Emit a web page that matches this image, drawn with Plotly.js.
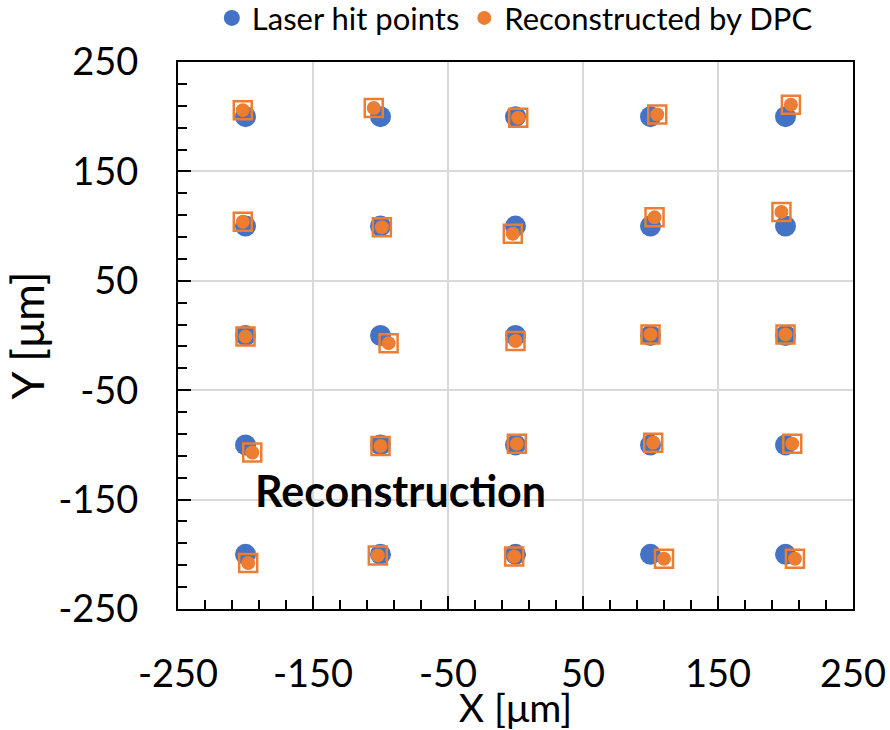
<!DOCTYPE html>
<html>
<head>
<meta charset="utf-8">
<script src="https://cdn.plot.ly/plotly-3.0.1.min.js"></script>
<style>html,body{margin:0;padding:0;background:#fff;}#chart{width:890px;height:730px;}</style>
</head>
<body>
<div id="chart"></div>
<script>
// Laser hit points (nominal grid)
const laserX = [-200, -100, 0, 100, 200, -200, -100, 0, 100, 200, -200, -100, 0, 100, 200, -200, -100, 0, 100, 200, -200, -100, 0, 100, 200];
const laserY = [200, 200, 200, 200, 200, 100, 100, 100, 100, 100, 0, 0, 0, 0, 0, -100, -100, -100, -100, -100, -200, -200, -200, -200, -200];
// Reconstructed by DPC
const recoX = [-202, -105, 2, 105, 204, -202, -99, -2, 103, 197, -200, -94, 0, 100, 200, -195, -100, 1, 102, 205, -198, -102, -1, 110, 207];
const recoY = [206, 208, 199, 202, 211, 104, 99, 93, 108, 113, -1, -7, -5, 1, 1, -107, -101, -99, -98, -99, -208, -201, -202, -204, -204];
const seriesNames = ["Laser hit points", "Reconstructed by DPC"];
const tickVals = [-250, -150, -50, 50, 150, 250];

const FONT = "Lato, 'Open Sans', sans-serif";
const BLUE = "#4472C4";
const ORANGE = "#ED7D31";

const traces = [
  {x: laserX, y: laserY, name: seriesNames[0], type: "scatter", mode: "markers",
   marker: {symbol: "circle", size: 21, color: BLUE}},
  {x: recoX, y: recoY, name: seriesNames[1], type: "scatter", mode: "markers", showlegend: false,
   marker: {symbol: "square-open", size: 18, color: ORANGE, line: {color: ORANGE, width: 2.5}}},
  {x: recoX, y: recoY, name: seriesNames[1], type: "scatter", mode: "markers",
   marker: {symbol: "circle", size: 14, color: ORANGE}}
];

const axisCommon = {
  range: [-250, 250], tickmode: "array", tickvals: tickVals, ticktext: tickVals.map(String),
  showline: true, mirror: true, linecolor: "#000", linewidth: 2,
  ticks: "inside", ticklen: 13, tickwidth: 2, tickcolor: "#000",
  showgrid: true, gridcolor: "#d9d9d9", gridwidth: 2,
  zeroline: false, ticklabelstandoff: 30,
  tickfont: {family: FONT, size: 38, color: "#000"},
  minor: {tick0: -250, dtick: 20, ticks: "inside", ticklen: 9, tickwidth: 2, tickcolor: "#000", showgrid: false},
  fixedrange: true
};

const layout = {
  width: 890, height: 730,
  margin: {l: 178, r: 37, t: 62, b: 121, autoexpand: false},
  paper_bgcolor: "#fff", plot_bgcolor: "#fff",
  font: {family: FONT, color: "#000"},
  showlegend: true,
  legend: {orientation: "h", x: 0.499, xanchor: "center", y: 1.08, yanchor: "middle",
           font: {family: FONT, size: 31, color: "#000"}, itemwidth: 30, traceorder: "normal"},
  xaxis: Object.assign({}, axisCommon, {title: {text: "X [μm]", font: {family: FONT, size: 39, color: "#000"}, standoff: 6}}),
  yaxis: Object.assign({}, axisCommon, {title: {text: "Y [μm]", font: {family: FONT, size: 45, color: "#000"}, standoff: 4}}),
  annotations: [
    {xref: "x", yref: "y", x: -85, y: -142, text: "<b>Reconstruction</b>", showarrow: false,
     font: {family: FONT, size: 43, color: "#000"}, xanchor: "center", yanchor: "middle"}
  ]
};

Plotly.newPlot("chart", traces, layout, {displayModeBar: false, staticPlot: true});
</script>
</body>
</html>
